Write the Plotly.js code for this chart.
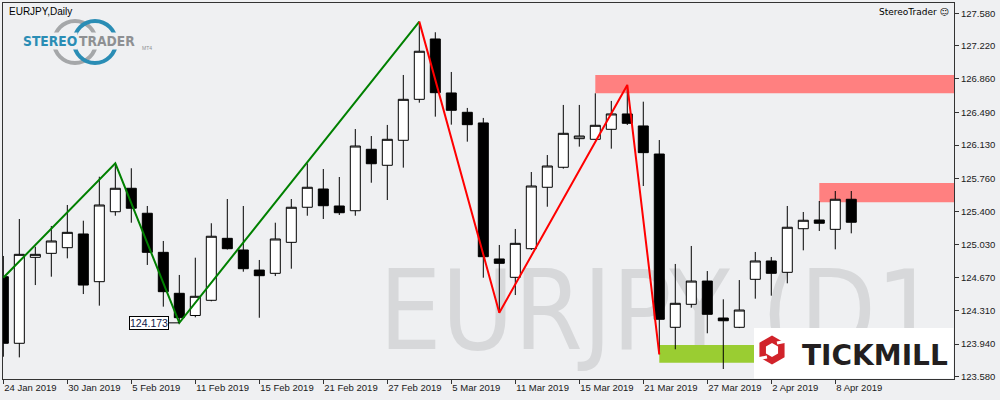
<!DOCTYPE html>
<html>
<head>
<meta charset="utf-8">
<script src="https://cdn.plot.ly/plotly-3.0.1.min.js"></script>
<style>html,body{margin:0;padding:0;background:#eff0f2;}#chart{width:1000px;height:400px;}</style>
</head>
<body>
<div id="chart"></div>
<script>
// ---- data ----
const dates = ['2019-01-24','2019-01-25','2019-01-28','2019-01-29','2019-01-30','2019-01-31',
  '2019-02-01','2019-02-04','2019-02-05','2019-02-06','2019-02-07','2019-02-08','2019-02-11','2019-02-12',
  '2019-02-13','2019-02-14','2019-02-15','2019-02-18','2019-02-19','2019-02-20','2019-02-21','2019-02-22',
  '2019-02-25','2019-02-26','2019-02-27','2019-02-28','2019-03-01','2019-03-04','2019-03-05','2019-03-06',
  '2019-03-07','2019-03-08','2019-03-11','2019-03-12','2019-03-13','2019-03-14','2019-03-15','2019-03-18',
  '2019-03-19','2019-03-20','2019-03-21','2019-03-22','2019-03-25','2019-03-26','2019-03-27','2019-03-28',
  '2019-03-29','2019-04-01','2019-04-02','2019-04-03','2019-04-04','2019-04-05','2019-04-08','2019-04-09'];
const open  = [124.681,123.948,124.894,124.938,125.000,125.151,124.626,125.396,125.654,125.379,124.949,124.498,124.254,124.421,
  125.103,124.975,124.754,124.718,125.059,125.445,125.646,125.459,125.407,126.083,125.907,126.182,126.633,127.297,126.703,126.490,
  126.373,124.876,124.674,124.989,125.665,125.885,126.200,126.193,126.303,126.472,126.340,126.031,124.124,124.377,124.633,124.226,
  124.124,124.652,124.854,124.729,125.209,125.305,125.202,125.533];
const high  = [124.909,125.316,125.011,125.239,125.470,125.297,125.781,125.929,125.874,125.459,125.074,124.700,124.890,125.269,
  125.536,125.459,124.865,125.275,125.536,125.929,125.866,125.778,126.306,126.229,126.351,126.901,127.488,127.371,126.934,126.538,
  126.428,125.030,125.206,125.833,126.020,126.571,126.571,126.699,126.615,126.791,126.607,126.185,124.821,125.019,124.743,124.432,
  124.644,124.953,124.898,125.459,125.393,125.514,125.624,125.624];
const low   = [123.800,123.793,124.589,124.681,124.883,124.490,124.362,125.352,125.275,124.810,124.351,124.173,124.234,124.410,
  124.980,124.736,124.229,124.688,124.769,125.352,125.316,125.360,125.352,125.715,125.525,125.881,126.596,126.442,126.354,126.167,
  124.670,124.284,124.479,124.975,125.451,125.870,126.112,126.185,126.090,126.351,125.679,123.827,123.882,124.340,124.058,123.665,
  124.115,124.439,124.472,124.608,124.971,125.184,124.982,125.158];
const close = [123.948,124.927,124.927,125.074,125.169,124.589,125.470,125.654,125.434,124.949,124.516,124.230,124.465,125.126,
  124.989,124.769,124.692,125.096,125.445,125.665,125.462,125.385,126.119,125.924,126.193,126.633,127.162,126.706,126.512,126.354,
  124.901,124.828,125.048,125.679,125.899,126.259,126.229,126.347,126.472,126.369,126.046,124.212,124.388,124.633,124.267,124.196,
  124.314,124.854,124.718,125.225,125.302,125.269,125.533,125.280];

const zigGreenDates = ['2019-01-24','2019-02-04','2019-02-08','2019-03-01'];
const zigGreenVals  = [124.67, 125.929, 124.173, 127.488];
const zigRedDates   = ['2019-03-01','2019-03-08','2019-03-20','2019-03-22'];
const zigRedVals    = [127.488, 124.284, 126.791, 123.827];

const tickDates  = ['2019-01-24','2019-01-30','2019-02-05','2019-02-11','2019-02-15','2019-02-21','2019-02-27',
  '2019-03-05','2019-03-11','2019-03-15','2019-03-21','2019-03-27','2019-04-02','2019-04-08'];
const tickLabels = ['24 Jan 2019','30 Jan 2019','5 Feb 2019','11 Feb 2019','15 Feb 2019','21 Feb 2019','27 Feb 2019',
  '5 Mar 2019','11 Mar 2019','15 Mar 2019','21 Mar 2019','27 Mar 2019','2 Apr 2019','8 Apr 2019'];
const priceTicks = [127.580,127.220,126.860,126.490,126.130,125.760,125.400,125.030,124.670,124.310,123.940,123.580];

const zoneUpper = {from:'2019-03-18', lo:126.699, hi:126.901};
const zoneLower = {from:'2019-04-05', lo:125.500, hi:125.712};
const zoneGreen = {from:'2019-03-22', to:'2019-04-02', lo:123.734, hi:123.929};
const lowLabel  = {date:'2019-02-08', value:124.173};

const watermarkText = 'EURJPY (D1';
const titleText = 'EURJPY,Daily';
const brandText = 'StereoTrader \u263A';

// ---- layout helpers (pixel -> paper) ----
const L = 3, R = 954, T = 3, B = 379;
const px = x => (x - L) / (R - L);
const py = y => (B - y) / (B - T);
const BG = '#eff0f2';
const idx = d => dates.indexOf(d);

// font availability + fit-to-width helpers
const ctx = document.createElement('canvas').getContext('2d');
function measure(text, family, weight) {
  ctx.font = (weight || 'normal') + ' 40px ' + family;
  return ctx.measureText(text).width;
}
function hasFont(f) {
  const probe = 'EURJPY abcdefghij 0123456789';
  return measure(probe, '"' + f + '", monospace') !== measure(probe, 'monospace');
}
function pickFamily(list) {
  for (const f of list) if (hasFont(f)) return f;
  return 'sans-serif';
}
function fitSize(text, family, weight, target) {
  return 40 * target / measure(text, '"' + family + '"', weight);
}
const condFam = pickFamily(['Liberation Sans Narrow', 'DejaVu Sans Condensed', 'Liberation Sans']);
const wmSize = Math.min(114, fitSize(watermarkText, condFam, 'normal', 560));
const logoSize = Math.min(20, fitSize('STEREOTRADER', condFam, 'bold', 110));

const traces = [
  {type:'candlestick', x:dates, open:open, high:high, low:low, close:close,
   increasing:{line:{color:'#000', width:1}, fillcolor:'#ffffff'},
   decreasing:{line:{color:'#000', width:1}, fillcolor:'#000000'},
   whiskerwidth:0, hoverinfo:'skip', showlegend:false},
  {type:'scatter', mode:'lines', x:zigGreenDates, y:zigGreenVals, line:{color:'#008000', width:2}, hoverinfo:'skip', showlegend:false},
  {type:'scatter', mode:'lines', x:zigRedDates, y:zigRedVals, line:{color:'#ff0000', width:2}, hoverinfo:'skip', showlegend:false}
];

function hexPath(cx, cy, r, rev) {
  const pts = [];
  for (let k = 0; k < 6; k++) {
    const a = (-90 + 60 * k) * Math.PI / 180;
    pts.push([cx + r * Math.cos(a), cy + r * Math.sin(a)]);
  }
  if (rev) pts.reverse();
  return 'M' + pts.map(p => px(p[0]) + ',' + py(p[1])).join(' L') + ' Z';
}

const shapes = [
  // watermark
  {type:'rect', xref:'paper', yref:'paper', x0:px(378), x1:px(940), y0:py(348), y1:py(258), layer:'below',
   line:{width:0}, fillcolor:'rgba(0,0,0,0)',
   label:{text:watermarkText, textposition:'middle center',
          font:{family:condFam, size:wmSize, color:'#d7d8da'}}},
  {type:'rect', xref:'x', yref:'y', x0:idx(zoneUpper.from), x1:70, y0:zoneUpper.lo, y1:zoneUpper.hi,
   layer:'below', line:{width:0}, fillcolor:'#ff8080'},
  {type:'rect', xref:'x', yref:'y', x0:idx(zoneLower.from), x1:70, y0:zoneLower.lo, y1:zoneLower.hi,
   layer:'below', line:{width:0}, fillcolor:'#ff8080'},
  {type:'rect', xref:'x', yref:'y', x0:idx(zoneGreen.from), x1:idx(zoneGreen.to), y0:zoneGreen.lo, y1:zoneGreen.hi,
   layer:'below', line:{width:0}, fillcolor:'#9acd32'},
  // Tickmill box
  {type:'rect', xref:'paper', yref:'paper', x0:px(754), x1:px(953.5), y0:py(378.5), y1:py(328), layer:'above',
   line:{width:0}, fillcolor:'#ffffff'},
  {type:'path', xref:'paper', yref:'paper', layer:'above', line:{width:0}, fillcolor:'#d1232a',
   path: hexPath(772, 350, 14.5, false) + ' ' + hexPath(772, 350, 7, true)},
  {type:'line', xref:'paper', yref:'paper', layer:'above', x0:px(777), y0:py(343), x1:px(787), y1:py(341), line:{color:'#ffffff', width:3}},
  {type:'line', xref:'paper', yref:'paper', layer:'above', x0:px(767), y0:py(357), x1:px(757), y1:py(359), line:{color:'#ffffff', width:3}},
  // StereoTrader logo circles
  {type:'circle', xref:'paper', yref:'paper', layer:'above', x0:px(54), x1:px(96), y0:py(63), y1:py(21),
   line:{color:'#a5a7a9', width:4}, fillcolor:'rgba(0,0,0,0)'},
  {type:'circle', xref:'paper', yref:'paper', layer:'above', x0:px(74), x1:px(116), y0:py(63), y1:py(21),
   line:{color:'#2a8db5', width:4}, fillcolor:'rgba(0,0,0,0)'}
];

const annotations = [
  {xref:'paper', yref:'paper', x:px(7), y:py(11), xanchor:'left', yanchor:'middle', showarrow:false,
   text:titleText, font:{family:'Liberation Sans, sans-serif', size:10, color:'#000'}},
  {xref:'paper', yref:'paper', x:px(951), y:py(12), xanchor:'right', yanchor:'middle', showarrow:false,
   text:brandText, font:{family:'DejaVu Sans, sans-serif', size:9, color:'#000'}},
  {xref:'paper', yref:'paper', x:px(78), y:py(41.5), xanchor:'right', yanchor:'middle', showarrow:false,
   text:'<b>STEREO</b>', bgcolor:BG, borderpad:0,
   font:{family:condFam, size:logoSize, color:'#2a8db5'}},
  {xref:'paper', yref:'paper', x:px(78), y:py(41.5), xanchor:'left', yanchor:'middle', showarrow:false,
   text:'<b>TRADER</b>', bgcolor:BG, borderpad:0,
   font:{family:condFam, size:logoSize, color:'#8e9093'}},
  {xref:'paper', yref:'paper', x:px(140), y:py(48), xanchor:'left', yanchor:'middle', showarrow:false,
   text:'MT4', font:{family:'Liberation Sans, sans-serif', size:5, color:'#8e9093'}},
  {xref:'paper', yref:'paper', x:px(800), y:py(355), xanchor:'left', yanchor:'middle', showarrow:false,
   text:'<b>TICKMILL</b>', font:{family:'DejaVu Sans, sans-serif', size:28, color:'#231f20'}},
  {xref:'x', yref:'y', x:idx(lowLabel.date), y:lowLabel.value, text:lowLabel.value.toFixed(3),
   showarrow:true, arrowhead:0, arrowwidth:1, arrowcolor:'#000', ax:-30, ay:0, standoff:0,
   bgcolor:'#ffffff', bordercolor:'#000', borderwidth:1, borderpad:0,
   font:{family:'Liberation Sans, sans-serif', size:10.5, color:'#10224a'}}
];

const layout = {
  width:1000, height:400,
  margin:{l:L, r:1000-R, t:T, b:400-B, pad:0},
  paper_bgcolor:BG, plot_bgcolor:BG,
  showlegend:false,
  boxgap:0.375, boxgroupgap:0,
  font:{family:'Liberation Sans, sans-serif', size:9.5, color:'#1a1a1a'},
  xaxis:{type:'category', range:[-0.02, 59.42], rangeslider:{visible:false},
    tickmode:'array', tickvals:tickDates, ticktext:tickLabels, ticklabelposition:'outside right',
    ticks:'outside', ticklen:4, tickcolor:'#333', showgrid:false, zeroline:false,
    showline:true, mirror:true, linecolor:'#333', linewidth:1, tickfont:{size:9.5, color:'#1a1a1a'}},
  yaxis:{side:'right', range:[123.555, 127.693], tickmode:'array', tickvals:priceTicks,
    ticktext:priceTicks.map(v => v.toFixed(3)), ticks:'outside', ticklen:4, tickcolor:'#333',
    showgrid:false, zeroline:false, showline:true, mirror:true, linecolor:'#333', linewidth:1,
    tickfont:{size:9.5, color:'#1a1a1a'}},
  shapes:shapes, annotations:annotations
};

Plotly.newPlot('chart', traces, layout, {staticPlot:true, displayModeBar:false});
</script>
</body>
</html>
